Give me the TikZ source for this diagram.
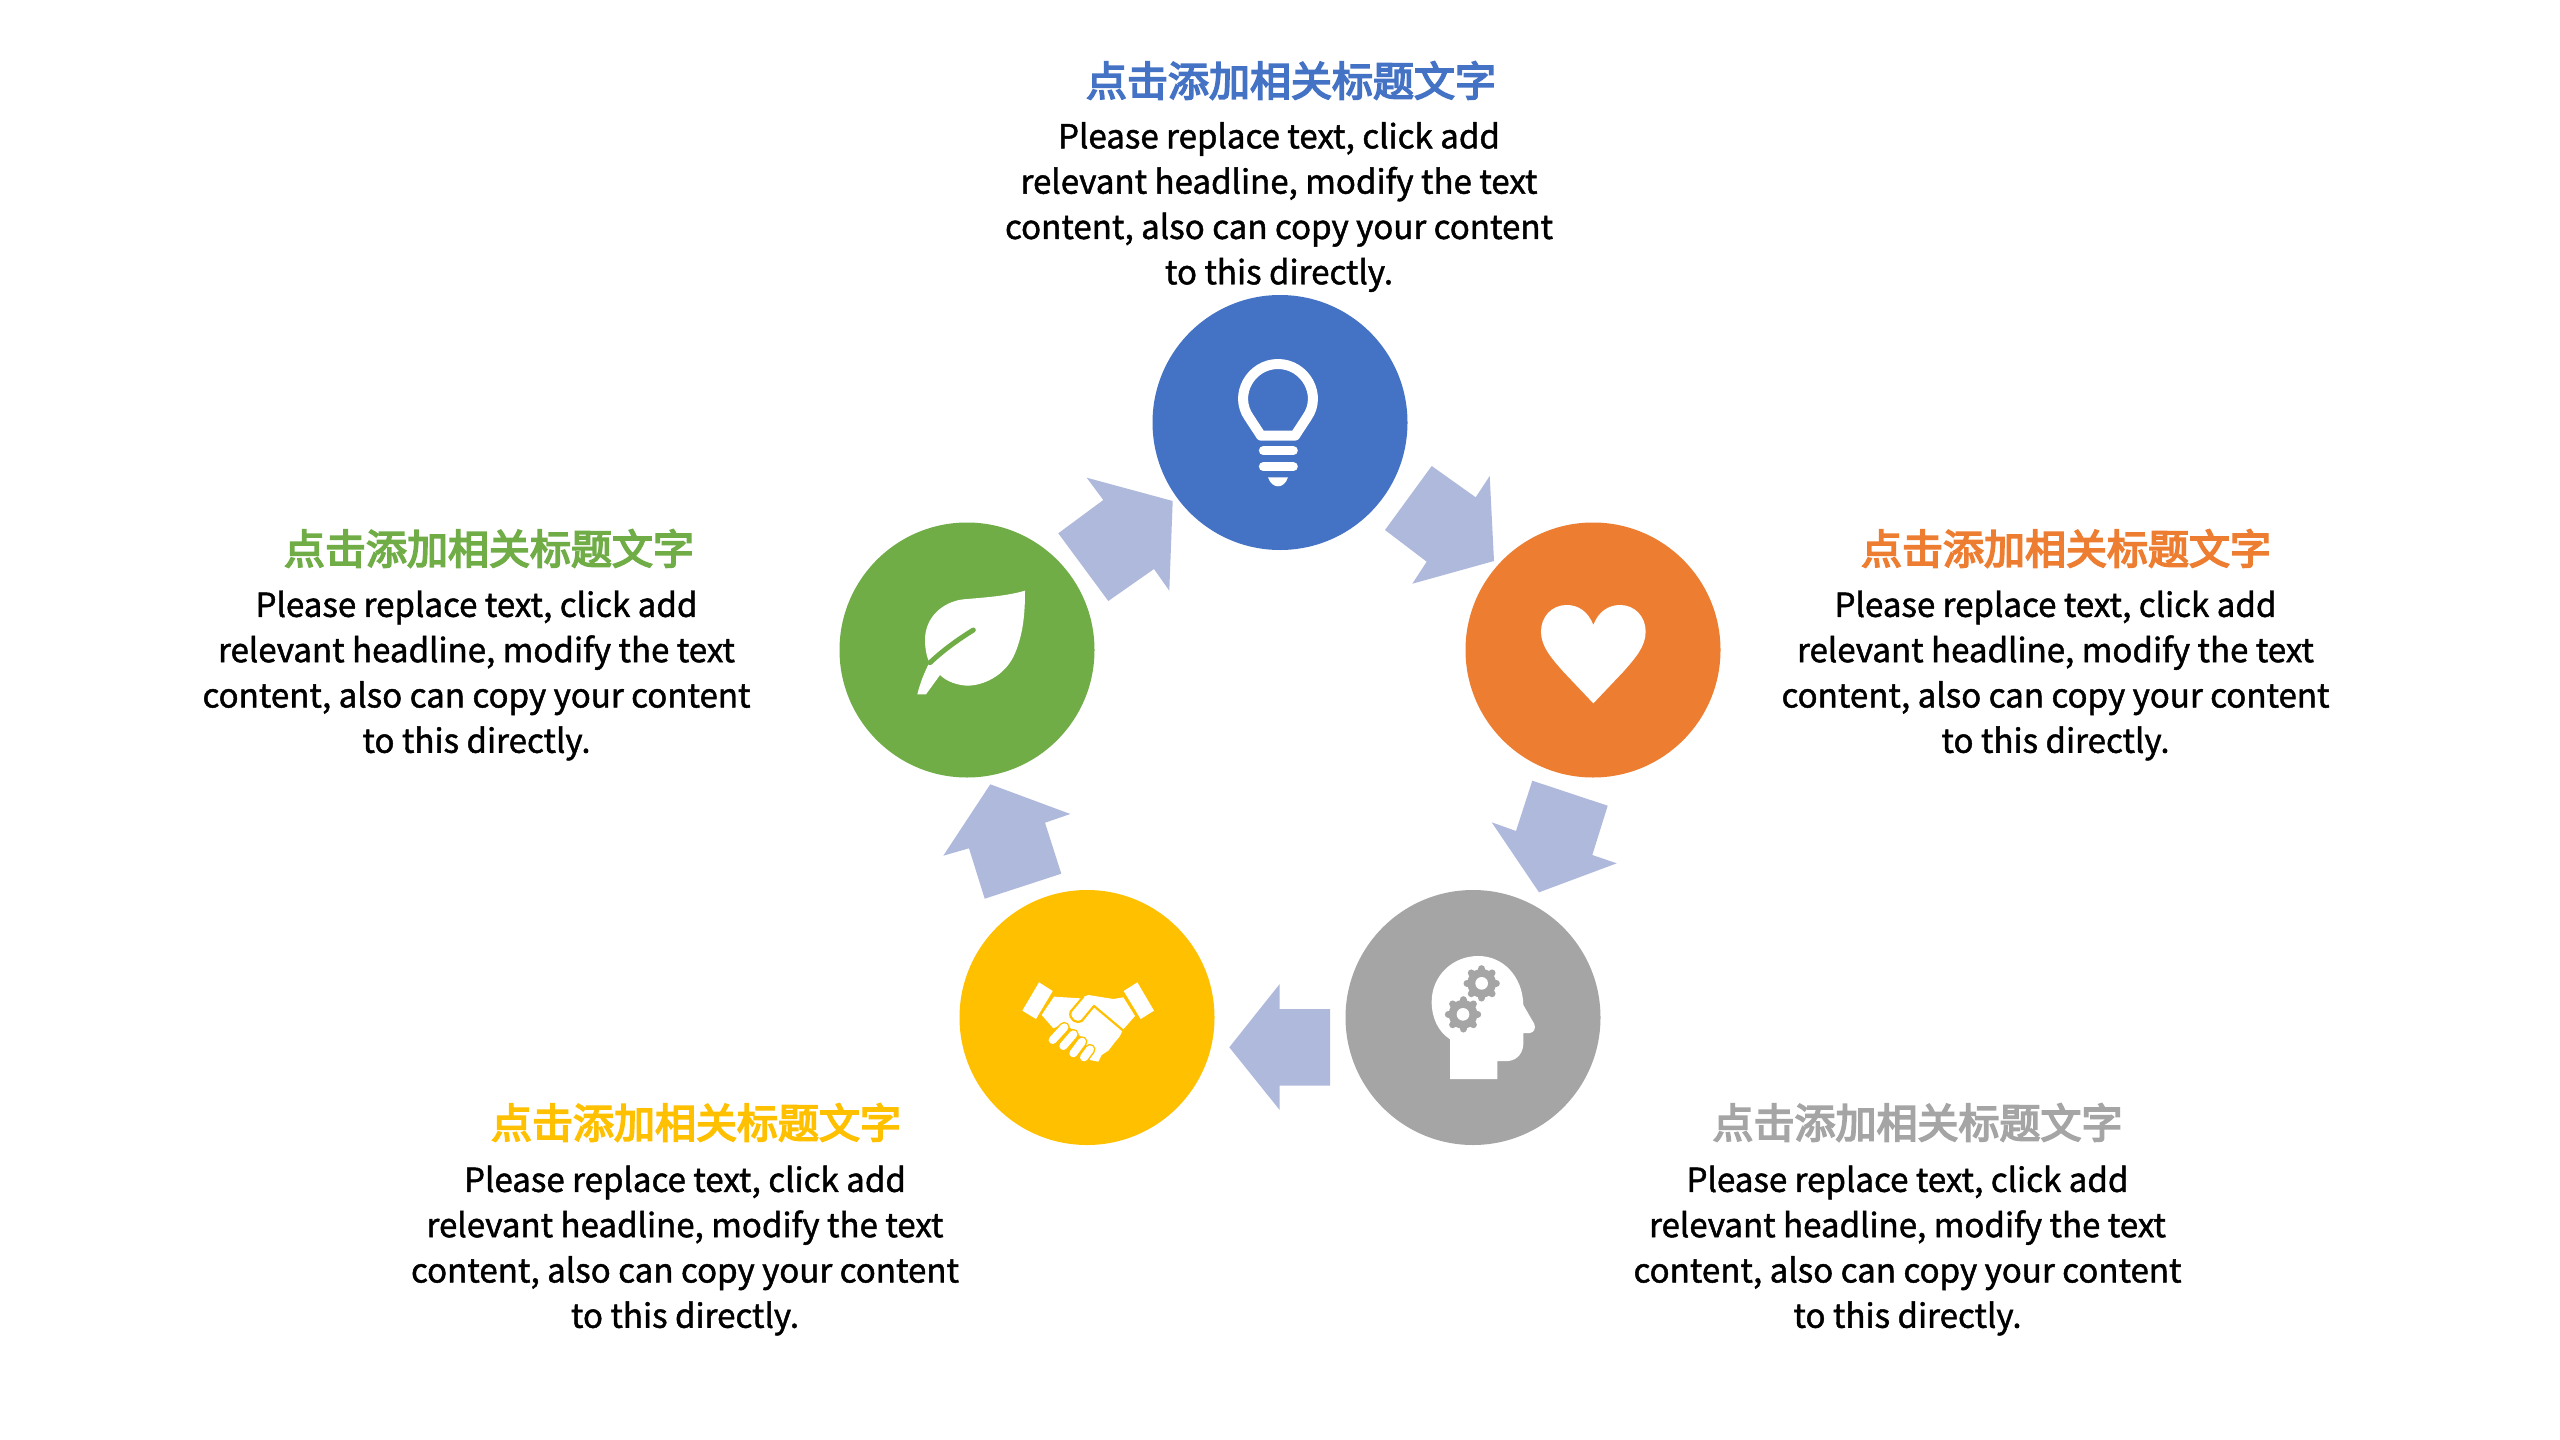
\documentclass[tikz,border=0pt]{standalone}
\usepackage{fontspec}
\setmainfont{Noto Sans CJK SC}
\newfontfamily\titlefont[FakeBold=4]{Noto Sans CJK SC}
\newfontfamily\bodyfont[FakeBold=1.4]{Noto Sans CJK SC}
\definecolor{cblue}{HTML}{4472C4}
\definecolor{corange}{HTML}{ED7D31}
\definecolor{cgray}{HTML}{A5A5A5}
\definecolor{cyellow}{HTML}{FFC000}
\definecolor{cgreen}{HTML}{70AD47}
\definecolor{carrow}{HTML}{AEB9DC}
\tikzset{
  disc/.style={circle,minimum size=255pt,inner sep=0pt,draw=none},
  flow/.style={fill=carrow,draw=none},
  titletext/.style={font=\titlefont\fontsize{41}{50}\selectfont,inner sep=0pt,anchor=center},
  bodytext/.style={font=\bodyfont\fontsize{33.1}{45.3}\selectfont,align=center,inner sep=0pt,anchor=center,text=black},
  zoomed/.style args={#1,#2}{shift={(#1pt,-#2pt)},x=0.33333pt,y=-0.33333pt},
  icon/.style={fill=white,draw=none},
}
\newcommand{\bodylines}{Please replace text, click add\\relevant headline, modify the text\\content, also can copy your content\\to this directly.}
\begin{document}
\begin{tikzpicture}[x=1pt,y=-1pt]
\useasboundingbox (0,0) rectangle (2560,1440);
\fill[white] (0,0) rectangle (2560,1440);

% discs
\node[disc,fill=cblue] (dblue) at (1280,422.5) {};
\node[disc,fill=corange] (dorange) at (1593,650) {};
\node[disc,fill=cgray] (dgray) at (1473,1017.5) {};
\node[disc,fill=cyellow] (dyellow) at (1087,1017.5) {};
\node[disc,fill=cgreen] (dgreen) at (967,650) {};

% block arrows
\fill[flow] (1431.7,466)--(1475.7,497.3)--(1489.7,476)--(1494,561)--(1412.3,583.7)--(1426.7,561.7)--(1385,530)--cycle;
\fill[flow] (1532.3,780.7)--(1607.7,805.7)--(1592.3,855)--(1616.7,863.3)--(1539,892.3)--(1491.7,822.3)--(1516,831)--cycle;
\fill[flow] (1330,1009)--(1330,1085.7)--(1279.7,1085.7)--(1279.7,1110)--(1229.3,1047.3)--(1279.7,984)--(1279.7,1009)--cycle;
\fill[flow] (990.3,784.3)--(1070.3,814)--(1045,822.7)--(1061.3,873.7)--(984.7,898.7)--(969,848.3)--(943.3,855.7)--cycle;
\fill[flow] (1086.7,477.7)--(1172.7,501)--(1169.3,590.7)--(1154,569)--(1108.3,601)--(1058.3,533.3)--(1103.3,500)--cycle;

% bulb
\begin{scope}[zoomed={1150,280}]
\draw[white,line width=10pt,line join=round] (333,467) -- (297,412) .. controls (250,345) and (302,252) .. (384,252) .. controls (466,252) and (518,345) .. (471,412) -- (435,467) -- cycle;
\draw[white,line width=9pt,line cap=round] (340,512) -- (430,512);
\draw[white,line width=9pt,line cap=round] (340,560) -- (430,560);
\fill[icon] (354,592) -- (414,592) .. controls (408,610) and (396,619) .. (384,619) .. controls (372,619) and (360,610) .. (354,592) -- cycle;
\end{scope}

% heart
\begin{scope}[zoomed={1460,510}]
\fill[icon] (400,345) .. controls (385,305) and (355,285) .. (320,285) .. controls (275,285) and (243,320) .. (243,365) .. controls (243,410) and (275,445) .. (310,485) -- (400,580) -- (490,485) .. controls (525,445) and (557,410) .. (557,365) .. controls (557,320) and (525,285) .. (480,285) .. controls (445,285) and (415,305) .. (400,345) -- cycle;
\end{scope}

% head with gears
\begin{scope}[zoomed={1340,880}]
\fill[icon] (330,597) -- (472,597) -- (472,543) -- (505,543) .. controls (535,540) and (550,515) .. (550,490) -- (550,459) -- (570,459) .. controls (582,457) and (588,445) .. (583,432) -- (550,375) .. controls (548,290) and (490,228) .. (415,228) .. controls (335,228) and (275,290) .. (275,365) .. controls (275,415) and (295,455) .. (330,478) -- cycle;
\foreach \gx/\gy in {425/310,369/403}{
  \fill[cgray] (\gx,\gy) circle[radius=43];
  \foreach \a in {0,45,...,315}{
    \draw[cgray,line width=7pt,line cap=round] (\gx,\gy) -- ++(\a:44);
  }
  \fill[white] (\gx,\gy) circle[radius=19];
}
\end{scope}

% handshake
\begin{scope}[zoomed={950,880}]
\fill[icon] (267,307)--(308,333)--(258,417)--(217,392)--cycle;
\fill[icon] (562,307)--(521,333)--(572,417)--(612,392)--cycle;
\fill[icon] (312,350)--(390,355)--(415,345)--(490,357)--(520,352)--(555,408)--(518,450)--(510,468)--(492,490)--(475,512)--(455,525)--(445,545)--(420,540)--(405,480)--(370,450)--(340,430)--(310,445)--(275,405)--cycle;
\draw[cyellow,line width=2.2pt,line join=round] (520,452) -- (432,378) -- (395,423) .. controls (382,432) and (355,420) .. (362,395) -- (400,350);
\foreach \ax/\ay/\bx/\by in {343/442/308/480,370/463/340/498,396/485/370/520,420/508/402/532}{
  \draw[cyellow,line width=11pt,line cap=round] (\ax,\ay) -- (\bx,\by);
  \draw[white,line width=8pt,line cap=round] (\ax,\ay) -- (\bx,\by);
}
\end{scope}

% leaf
\begin{scope}[zoomed={830,510}]
\fill[icon] (585,242) .. controls (530,258) and (470,262) .. (400,268) .. controls (340,275) and (285,320) .. (285,390) .. controls (285,415) and (290,440) .. (298,458) .. controls (282,490) and (270,520) .. (262,553) -- (288,553) -- (330,495) .. controls (350,515) and (385,527) .. (415,527) .. controls (470,525) and (530,490) .. (555,430) .. controls (580,370) and (585,310) .. (585,242) -- cycle;
\draw[cgreen,line width=5pt,line cap=round] (430,360) .. controls (385,388) and (340,420) .. (300,458);
\end{scope}

% texts
\node[titletext,text=cblue] (t1) at (1291,80.5) {点击添加相关标题文字};
\node[bodytext] (b1) at (1279,207) {\bodylines};
\node[titletext,text=corange] (t2) at (2066,548.5) {点击添加相关标题文字};
\node[bodytext] (b2) at (2055.5,675.5) {\bodylines};
\node[titletext,text=cgray] (t3) at (1917.5,1122.5) {点击添加相关标题文字};
\node[bodytext] (b3) at (1907.5,1250.5) {\bodylines};
\node[titletext,text=cyellow] (t4) at (696,1122.5) {点击添加相关标题文字};
\node[bodytext] (b4) at (685,1250.5) {\bodylines};
\node[titletext,text=cgreen] (t5) at (489,548.5) {点击添加相关标题文字};
\node[bodytext] (b5) at (476.5,675.5) {\bodylines};
\end{tikzpicture}
\end{document}
